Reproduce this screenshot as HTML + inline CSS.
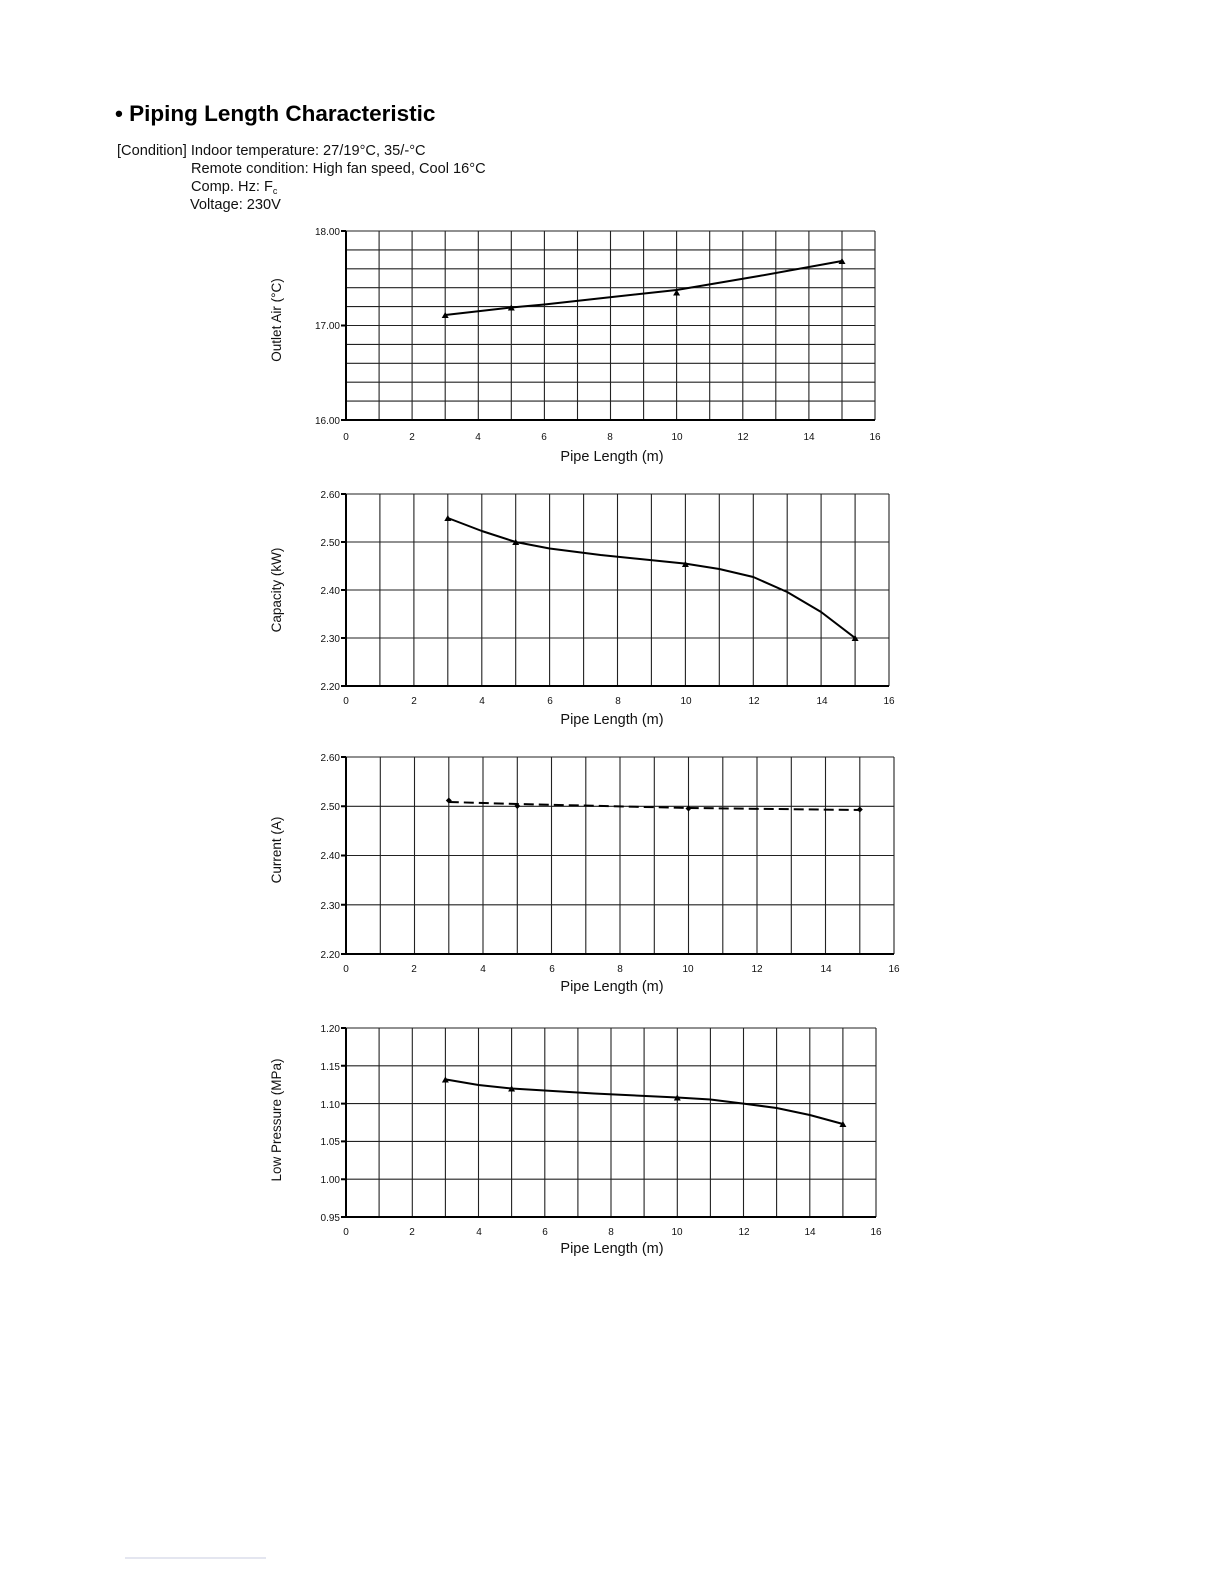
<!DOCTYPE html>
<html><head><meta charset="utf-8"><style>
body{margin:0;background:#fff;}
svg{display:block;font-family:"Liberation Sans",Arial,sans-serif;}
.g{stroke:#222;stroke-width:1.1;fill:none}
.ax{stroke:#000;stroke-width:2;fill:none}
.tl{font-size:10px;fill:#111}
.xt{font-size:14.5px;fill:#111}
.yt{font-size:13.5px;fill:#111}
.s{stroke:#000;stroke-width:2;fill:none;stroke-linejoin:round}
</style></head><body>
<svg width="1224" height="1584" viewBox="0 0 1224 1584">
<text x="115" y="121" font-size="22.5" font-weight="bold">• Piping Length Characteristic</text>
<g font-size="14.6" fill="#111">
<text x="117" y="155">[Condition] Indoor temperature: 27/19°C, 35/-°C</text>
<text x="191" y="173">Remote condition: High fan speed, Cool 16°C</text>
<text x="191" y="191">Comp. Hz: F<tspan font-size="9" dy="3">c</tspan></text>
<text x="190" y="209">Voltage: 230V</text>
</g>

<!-- Chart 1 -->
<path class="g" d="M379.1 231V420M412.1 231V420M445.2 231V420M478.3 231V420M511.3 231V420M544.4 231V420M577.5 231V420M610.5 231V420M643.6 231V420M676.6 231V420M709.7 231V420M742.8 231V420M775.8 231V420M808.9 231V420M842 231V420M875 231V420M346 231H875M346 249.9H875M346 268.8H875M346 287.7H875M346 306.6H875M346 325.5H875M346 344.4H875M346 363.3H875M346 382.2H875M346 401.1H875"/>
<path class="ax" d="M346 231V420H875M341 231H346M341 325.5H346M341 420H346"/>
<g class="tl" text-anchor="end"><text x="340" y="235">18.00</text><text x="340" y="329">17.00</text><text x="340" y="424">16.00</text></g>
<g class="tl" text-anchor="middle"><text x="346" y="440">0</text><text x="412" y="440">2</text><text x="478" y="440">4</text><text x="544" y="440">6</text><text x="610" y="440">8</text><text x="677" y="440">10</text><text x="743" y="440">12</text><text x="809" y="440">14</text><text x="875" y="440">16</text></g>
<text class="xt" x="612" y="461" text-anchor="middle">Pipe Length (m)</text>
<text class="yt" transform="translate(281,320) rotate(-90)" text-anchor="middle">Outlet Air (°C)</text>
<path class="s" d="M445.2 315 L511.3 307.5 L544.4 304.5 L594 299 L676.6 290 L759 276 L842 261"/>
<g fill="#000"><path d="M445.2 312l3.5 6h-7z"/><path d="M511.3 304.5l3.5 6h-7z"/><path d="M676.6 289.5l3.5 6h-7z"/><path d="M842 258l3.5 6h-7z"/></g>

<!-- Chart 2 -->
<path class="g" d="M379.9 494V686M413.9 494V686M447.8 494V686M481.8 494V686M515.7 494V686M549.6 494V686M583.6 494V686M617.5 494V686M651.4 494V686M685.4 494V686M719.3 494V686M753.3 494V686M787.2 494V686M821.1 494V686M855.1 494V686M889 494V686M346 494H889M346 542H889M346 590H889M346 638H889"/>
<path class="ax" d="M346 494V686H889M341 494H346M341 542H346M341 590H346M341 638H346M341 686H346"/>
<g class="tl" text-anchor="end"><text x="340" y="498">2.60</text><text x="340" y="546">2.50</text><text x="340" y="594">2.40</text><text x="340" y="642">2.30</text><text x="340" y="690">2.20</text></g>
<g class="tl" text-anchor="middle"><text x="346" y="704">0</text><text x="414" y="704">2</text><text x="482" y="704">4</text><text x="550" y="704">6</text><text x="618" y="704">8</text><text x="686" y="704">10</text><text x="754" y="704">12</text><text x="822" y="704">14</text><text x="889" y="704">16</text></g>
<text class="xt" x="612" y="724" text-anchor="middle">Pipe Length (m)</text>
<text class="yt" transform="translate(281,590) rotate(-90)" text-anchor="middle">Capacity (kW)</text>
<path class="s" d="M447.8 518 L481.8 531 L515.7 542 L549.6 548.5 L600.6 555 L685.4 563.6 L719.3 569 L753.3 577 L787.2 592 L821.1 612 L855.1 638"/>
<g fill="#000"><path d="M447.8 515l3.5 6h-7z"/><path d="M515.7 539l3.5 6h-7z"/><path d="M685.4 561l3.5 6h-7z"/><path d="M855.1 635l3.5 6h-7z"/></g>

<!-- Chart 3 -->
<path class="g" d="M380.3 757V954M414.5 757V954M448.8 757V954M483 757V954M517.3 757V954M551.5 757V954M585.8 757V954M620 757V954M654.3 757V954M688.5 757V954M722.8 757V954M757 757V954M791.3 757V954M825.5 757V954M859.8 757V954M894 757V954M346 757H894M346 806.3H894M346 855.5H894M346 904.8H894"/>
<path class="ax" d="M346 757V954H894M341 757H346M341 806.3H346M341 855.5H346M341 904.8H346M341 954H346"/>
<g class="tl" text-anchor="end"><text x="340" y="761">2.60</text><text x="340" y="810">2.50</text><text x="340" y="859">2.40</text><text x="340" y="909">2.30</text><text x="340" y="958">2.20</text></g>
<g class="tl" text-anchor="middle"><text x="346" y="972">0</text><text x="414" y="972">2</text><text x="483" y="972">4</text><text x="552" y="972">6</text><text x="620" y="972">8</text><text x="688" y="972">10</text><text x="757" y="972">12</text><text x="826" y="972">14</text><text x="894" y="972">16</text></g>
<text class="xt" x="612" y="991" text-anchor="middle">Pipe Length (m)</text>
<text class="yt" transform="translate(281,850) rotate(-90)" text-anchor="middle">Current (A)</text>
<path d="M448.8 802 L517.3 804 L688.5 808 L859.8 810" stroke="#000" stroke-width="2" fill="none" stroke-dasharray="10,5"/>
<g fill="#000"><path d="M448.8 797.5l3 3-3 3-3-3z"/><path d="M517.3 803l3 3-3 3-3-3z"/><path d="M688.5 805.5l3 3-3 3-3-3z"/><path d="M859.8 806.5l3 3-3 3-3-3z"/></g>

<!-- Chart 4 -->
<path class="g" d="M379.1 1028V1217M412.3 1028V1217M445.4 1028V1217M478.5 1028V1217M511.6 1028V1217M544.8 1028V1217M577.9 1028V1217M611 1028V1217M644.1 1028V1217M677.3 1028V1217M710.4 1028V1217M743.5 1028V1217M776.6 1028V1217M809.8 1028V1217M842.9 1028V1217M876 1028V1217M346 1028H876M346 1065.8H876M346 1103.6H876M346 1141.4H876M346 1179.2H876"/>
<path class="ax" d="M346 1028V1217H876M341 1028H346M341 1065.8H346M341 1103.6H346M341 1141.4H346M341 1179.2H346M341 1217H346"/>
<g class="tl" text-anchor="end"><text x="340" y="1032">1.20</text><text x="340" y="1070">1.15</text><text x="340" y="1108">1.10</text><text x="340" y="1145">1.05</text><text x="340" y="1183">1.00</text><text x="340" y="1221">0.95</text></g>
<g class="tl" text-anchor="middle"><text x="346" y="1235">0</text><text x="412" y="1235">2</text><text x="479" y="1235">4</text><text x="545" y="1235">6</text><text x="611" y="1235">8</text><text x="677" y="1235">10</text><text x="744" y="1235">12</text><text x="810" y="1235">14</text><text x="876" y="1235">16</text></g>
<text class="xt" x="612" y="1253" text-anchor="middle">Pipe Length (m)</text>
<text class="yt" transform="translate(281,1120) rotate(-90)" text-anchor="middle">Low Pressure (MPa)</text>
<path class="s" d="M445.4 1079.4 L478.5 1085 L511.6 1088.5 L594 1093.5 L677.3 1097.5 L710.4 1099.5 L743.5 1103.6 L776.6 1108 L809.8 1115 L842.9 1124"/>
<g fill="#000"><path d="M445.4 1076.5l3.5 6h-7z"/><path d="M511.6 1085.5l3.5 6h-7z"/><path d="M677.3 1094.5l3.5 6h-7z"/><path d="M842.9 1121l3.5 6h-7z"/></g>

<path d="M125 1558H266" stroke="#c8cde0" stroke-width="1"/>
</svg>
</body></html>
